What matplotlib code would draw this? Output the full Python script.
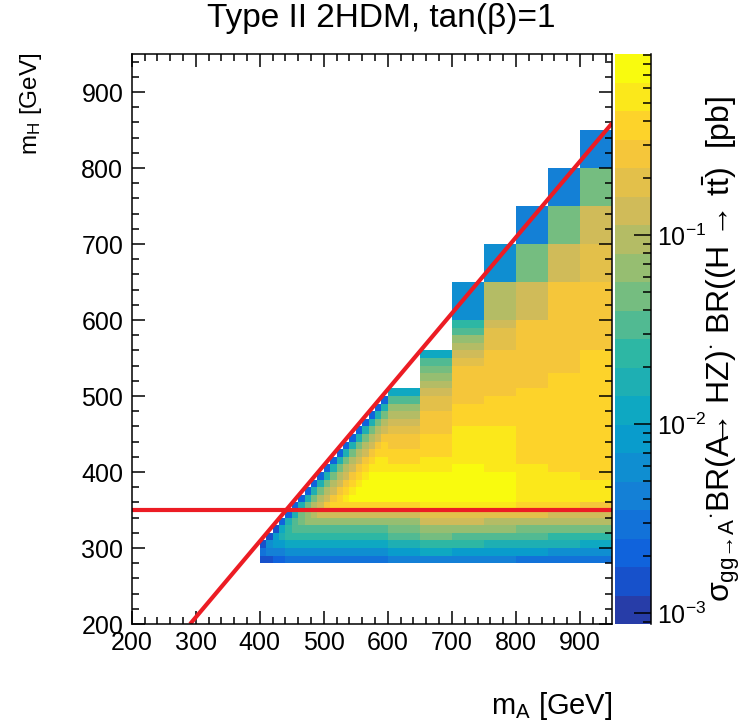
import numpy as np
import matplotlib
matplotlib.use('Agg')
from matplotlib import pyplot as plt
from matplotlib.colors import LinearSegmentedColormap, ListedColormap, LogNorm
from matplotlib.ticker import MultipleLocator, LogLocator, NullFormatter

plt.rcParams['font.family'] = ['Liberation Sans', 'DejaVu Sans']
plt.rcParams['mathtext.fontset'] = 'custom'
plt.rcParams['mathtext.rm'] = 'Liberation Sans'
plt.rcParams['mathtext.it'] = 'Liberation Sans'
plt.rcParams['mathtext.bf'] = 'Liberation Sans:bold'
plt.rcParams['mathtext.sf'] = 'Liberation Sans'

# bin edges in GeV
mA_edges = [400, 410, 420, 430, 440, 450, 460, 470, 480, 490, 500, 510, 520, 530,
            540, 550, 560, 570, 580, 590, 600, 650, 700, 750, 800, 850, 900, 950]
mH_edges = [280, 290, 300, 310, 320, 330, 340, 350, 360, 370, 380, 390, 400, 410,
            420, 430, 440, 450, 460, 470, 480, 490, 500, 510, 520, 530, 540, 550,
            560, 570, 580, 590, 600, 650, 700, 750, 800, 850, 900, 950]

# sigma x BR [pb], one list per mA bin, mH bins counted from 280 GeV upwards
xsec = [
    # 400
    [0.0015, 0.0030, 0.0015],
    # 410
    [0.0015, 0.0042, 0.0059, 0.0015],
    # 420
    [0.0021, 0.0042, 0.0084, 0.0084, 0.0015],
    # 430
    [0.0021, 0.0042, 0.0084, 0.017, 0.012, 0.0021],
    # 440
    [0.0030, 0.0059, 0.012, 0.024, 0.024, 0.017, 0.0021],
    # 450
    [0.0030, 0.0059, 0.012, 0.024, 0.034, 0.034, 0.017, 0.0021],
    # 460
    [0.0030, 0.0059, 0.012, 0.024, 0.034, 0.047, 0.047, 0.017, 0.0021],
    # 470
    [0.0030, 0.0059, 0.012, 0.024, 0.034, 0.067, 0.067, 0.047, 0.017, 0.0021],
    # 480
    [0.0030, 0.0059, 0.012, 0.024, 0.034, 0.067, 0.095, 0.095, 0.047, 0.017, 0.0021],
    # 490
    [0.0030, 0.0059, 0.012, 0.024, 0.034, 0.067, 0.13, 0.13, 0.095, 0.047, 0.017, 0.0021],
    # 500
    [0.0030, 0.0059, 0.012, 0.024, 0.034, 0.067, 0.13, 0.27, 0.13, 0.095, 0.047, 0.017,
     0.0021],
    # 510
    [0.0030, 0.0059, 0.012, 0.024, 0.034, 0.067, 0.13, 0.38, 0.27, 0.13, 0.095, 0.047,
     0.017, 0.0021],
    # 520
    [0.0030, 0.0059, 0.012, 0.024, 0.034, 0.067, 0.13, 0.38, 0.38, 0.27, 0.13, 0.095,
     0.047, 0.017, 0.0021],
    # 530
    [0.0030, 0.0059, 0.012, 0.024, 0.034, 0.067, 0.13, 0.38, 0.54, 0.38, 0.27, 0.13,
     0.095, 0.047, 0.017, 0.0021],
    # 540
    [0.0030, 0.0059, 0.012, 0.024, 0.034, 0.067, 0.13, 0.38, 0.76, 0.54, 0.38, 0.27,
     0.13, 0.095, 0.047, 0.017, 0.0021],
    # 550
    [0.0030, 0.0059, 0.012, 0.024, 0.034, 0.067, 0.13, 0.38, 0.76, 0.76, 0.54, 0.38,
     0.27, 0.13, 0.095, 0.047, 0.017, 0.0021],
    # 560
    [0.0030, 0.0059, 0.012, 0.024, 0.034, 0.067, 0.13, 0.38, 0.76, 0.76, 0.76, 0.54,
     0.38, 0.27, 0.13, 0.095, 0.047, 0.017, 0.0021],
    # 570
    [0.0030, 0.0059, 0.012, 0.024, 0.034, 0.067, 0.13, 0.38, 0.76, 0.76, 0.76, 0.76,
     0.54, 0.38, 0.27, 0.13, 0.095, 0.047, 0.017, 0.0021],
    # 580
    [0.0030, 0.0059, 0.012, 0.024, 0.034, 0.067, 0.13, 0.38, 0.76, 0.76, 0.76, 0.76,
     0.54, 0.54, 0.38, 0.27, 0.13, 0.095, 0.047, 0.017, 0.0021],
    # 590
    [0.0030, 0.0059, 0.012, 0.024, 0.034, 0.067, 0.13, 0.38, 0.76, 0.76, 0.76, 0.76,
     0.54, 0.54, 0.38, 0.38, 0.27, 0.13, 0.095, 0.047, 0.017, 0.0021],
    # 600-650
    [0.0042, 0.0084, 0.017, 0.034, 0.047, 0.067, 0.13, 0.38, 0.76, 0.76, 0.76, 0.76,
     0.54, 0.38, 0.38, 0.27, 0.27, 0.19, 0.13, 0.095, 0.067, 0.034, 0.012],
    # 650-700
    [0.0042, 0.012, 0.024, 0.047, 0.067, 0.13, 0.19, 0.54, 0.76, 0.76, 0.76, 0.76,
     0.54, 0.54, 0.38, 0.38, 0.38, 0.27, 0.27, 0.27, 0.19, 0.19, 0.13, 0.095, 0.067,
     0.047, 0.034, 0.012],
    # 700-750
    [0.0042, 0.0084, 0.024, 0.034, 0.067, 0.13, 0.19, 0.54, 0.76, 0.76, 0.76, 0.76,
     0.76, 0.54, 0.54, 0.54, 0.54, 0.54, 0.38, 0.38, 0.38, 0.27, 0.27, 0.27, 0.27,
     0.27, 0.19, 0.13, 0.095, 0.067, 0.034, 0.024, 0.0059],
    # 750-800
    [0.0042, 0.0084, 0.017, 0.034, 0.067, 0.095, 0.19, 0.54, 0.76, 0.76, 0.76, 0.76,
     0.54, 0.54, 0.54, 0.54, 0.54, 0.54, 0.38, 0.38, 0.38, 0.38, 0.27, 0.27, 0.27,
     0.27, 0.27, 0.27, 0.19, 0.19, 0.19, 0.13, 0.095, 0.0059],
    # 800-850
    [0.0030, 0.0084, 0.017, 0.034, 0.047, 0.095, 0.19, 0.38, 0.54, 0.54, 0.54, 0.54,
     0.54, 0.38, 0.38, 0.38, 0.38, 0.38, 0.38, 0.38, 0.38, 0.38, 0.38, 0.27, 0.27,
     0.27, 0.27, 0.27, 0.27, 0.27, 0.27, 0.27, 0.13, 0.047, 0.0042],
    # 850-900
    [0.0030, 0.0059, 0.017, 0.024, 0.047, 0.095, 0.13, 0.38, 0.54, 0.54, 0.54, 0.54,
     0.38, 0.38, 0.38, 0.38, 0.38, 0.38, 0.38, 0.38, 0.38, 0.38, 0.38, 0.38, 0.38,
     0.27, 0.27, 0.27, 0.27, 0.27, 0.27, 0.27, 0.27, 0.13, 0.047, 0.0042],
    # 900-950
    [0.0030, 0.0059, 0.012, 0.024, 0.047, 0.095, 0.13, 0.27, 0.54, 0.54, 0.54, 0.38,
     0.38, 0.38, 0.38, 0.38, 0.38, 0.38, 0.38, 0.38, 0.38, 0.38, 0.38, 0.38, 0.38,
     0.38, 0.38, 0.38, 0.27, 0.27, 0.27, 0.27, 0.27, 0.19, 0.13, 0.047, 0.0042],
]

mZ = 91.19          # A -> HZ threshold
mH_tt = 350.        # H -> tt threshold
z_min, z_max = 8.75e-4, 0.908

# ROOT kBird palette, 20 contour levels
stops = [0.0, 0.125, 0.25, 0.375, 0.5, 0.625, 0.75, 0.875, 1.0]
red = [0.2082, 0.0592, 0.0780, 0.0232, 0.1802, 0.5301, 0.8186, 0.9956, 0.9764]
green = [0.1664, 0.3599, 0.5041, 0.6419, 0.7178, 0.7492, 0.7328, 0.7862, 0.9832]
blue = [0.5293, 0.8684, 0.8385, 0.7914, 0.6425, 0.4662, 0.3499, 0.1968, 0.0539]
bird = LinearSegmentedColormap.from_list('bird', list(zip(stops, zip(red, green, blue))))
ncont = 20
cmap = ListedColormap([bird((i + 0.99) / ncont) for i in range(ncont)])

Z = np.ma.masked_all((len(mH_edges) - 1, len(mA_edges) - 1))
for j, col in enumerate(xsec):
    Z[:len(col), j] = col

fig = plt.figure(figsize=(7.47, 7.25), dpi=100)
ax = fig.add_axes([0.1763, 0.1393, 0.643, 0.7862])
cax = fig.add_axes([0.8233, 0.1393, 0.0482, 0.7862])

mesh = ax.pcolormesh(mA_edges, mH_edges, Z, cmap=cmap,
                     norm=LogNorm(vmin=z_min, vmax=z_max),
                     linewidth=0, antialiased=False)

red_c = '#ec1c24'
ax.plot([200 + mZ, 950], [200, 950 - mZ], color=red_c, lw=3.0, solid_capstyle='butt')
ax.plot([200, 950], [mH_tt, mH_tt], color=red_c, lw=3.0, solid_capstyle='butt')

ax.set_xlim(200, 950)
ax.set_ylim(200, 950)
ax.xaxis.set_major_locator(MultipleLocator(100))
ax.xaxis.set_minor_locator(MultipleLocator(20))
ax.yaxis.set_major_locator(MultipleLocator(100))
ax.yaxis.set_minor_locator(MultipleLocator(20))
ax.tick_params(which='both', direction='in', top=True, right=True, width=1.1,
               labelsize=18)
ax.tick_params(which='major', length=9.5)
ax.tick_params(which='minor', length=5)
ax.tick_params(axis='x', pad=5)
ax.tick_params(axis='y', pad=6)
for s in ax.spines.values():
    s.set_linewidth(1.1)

cb = fig.colorbar(mesh, cax=cax)
cb.outline.set_visible(False)
cax.yaxis.set_ticks_position('right')
cax.yaxis.set_major_locator(LogLocator(base=10))
cax.yaxis.set_minor_locator(LogLocator(base=10, subs=np.arange(2, 10)))
cax.yaxis.set_minor_formatter(NullFormatter())
cax.tick_params(which='both', direction='in', width=1.1, labelsize=18, pad=4)
cax.tick_params(which='major', length=12)
cax.tick_params(which='minor', length=6)
cax.plot([1, 1], [0, 1], transform=cax.transAxes, color='k', lw=1.1, clip_on=False)

fig.text(0.51, 1 - 18 / 725, 'Type II 2HDM, tan(β)=1', fontsize=24,
         ha='center', va='center')
fig.text(612 / 747, 11 / 725, r'm$_{A}$ [GeV]', fontsize=21, ha='right', va='baseline')
fig.text(31 / 747, 1 - 53 / 725, r'm$_{H}$ [GeV]', fontsize=17.5, rotation=90,
         ha='center', va='top')
fig.text(701 / 747, 1 - 602 / 725,
         r'$\sigma_{gg→A}{}^{\cdot}$BR(A$\!\!$→ HZ)$^{\cdot}$ BR((H → t$\bar{t}$)  [pb]',
         fontsize=23, rotation=90, ha='left', va='bottom')

fig.savefig('out.png', dpi=100)
